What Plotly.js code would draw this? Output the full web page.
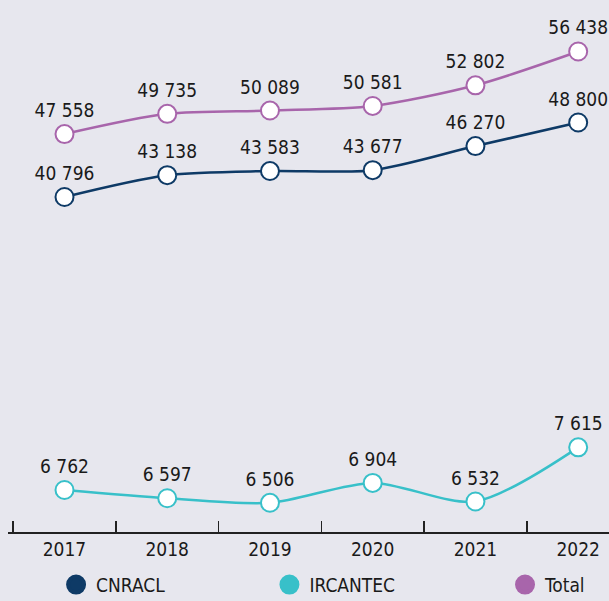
<!DOCTYPE html>
<html><head><meta charset="utf-8">
<script src="https://cdn.plot.ly/plotly-3.0.1.min.js"></script>
<style>html,body{margin:0;padding:0;background:#e7e7ee}</style>
</head><body><div id="chart" style="width:609px;height:601px"></div>
<script>
const years = ['2017','2018','2019','2020','2021','2022'];
const cnracl = [40796, 43138, 43583, 43677, 46270, 48800];
const ircantec = [6762, 6597, 6506, 6904, 6532, 7615];
const total = [47558, 49735, 50089, 50581, 52802, 56438];
const names = ['CNRACL', 'IRCANTEC', 'Total'];
const colors = ['#0e3a66', '#38c0c9', '#a865ab'];

const fmt = v => String(v).replace(/\B(?=(\d{3})+(?!\d))/g, '\u00a0');
const FONT = '"DejaVu Sans Condensed", "Liberation Sans Narrow", sans-serif';

function lineTrace(vals, i, yaxis) {
  return {
    x: years, y: vals, yaxis: yaxis, name: names[i], showlegend: false,
    type: 'scatter', mode: 'lines+markers+text',
    line: {shape: 'spline', smoothing: 0.8, color: colors[i], width: 2.5},
    marker: {size: 18, color: '#ffffff', line: {color: colors[i], width: 2}},
    text: vals.map(fmt), textposition: 'top center',
    textfont: {family: FONT, size: 19, color: '#1a1a1a'},
    cliponaxis: false, hoverinfo: 'skip'
  };
}
const legendIds = ['legend', 'legend2', 'legend3'];
function legendTrace(i) {
  return {x: [null], y: [null], name: names[i], type: 'scatter', mode: 'markers',
    marker: {size: 16, color: colors[i], line: {color: colors[i], width: 4}},
    showlegend: true, legend: legendIds[i]};
}
const data = [
  lineTrace(cnracl, 0, 'y'),
  lineTrace(ircantec, 1, 'y2'),
  lineTrace(total, 2, 'y'),
  legendTrace(0), legendTrace(1), legendTrace(2)
];
function legendAt(x) {
  return {orientation: 'h', x: x, xanchor: 'left', yref: 'container', y: 0.027, yanchor: 'middle',
    font: {family: FONT, size: 19, color: '#1a1a1a'}, bgcolor: 'rgba(0,0,0,0)'};
}
const layout = {
  width: 609, height: 601,
  margin: {l: 8, r: 0, t: 0, b: 69},
  paper_bgcolor: '#e7e7ee', plot_bgcolor: '#e7e7ee',
  font: {family: FONT, color: '#1a1a1a'},
  xaxis: {type: 'category', range: [-0.55, 5.3], showgrid: false, zeroline: false,
    showline: true, linecolor: '#222', linewidth: 1.5, automargin: false,
    ticks: 'inside', tickson: 'boundaries', ticklen: 11, tickwidth: 1.5, tickcolor: '#222',
    tickfont: {family: FONT, size: 19, color: '#1a1a1a'}, fixedrange: true},
  yaxis: {range: [4774, 61974], visible: false, showgrid: false, zeroline: false},
  yaxis2: {range: [5922, 16562], overlaying: 'y', visible: false, showgrid: false, zeroline: false},
  showlegend: true,
  legend: legendAt(0.08),
  legend2: legendAt(0.435),
  legend3: legendAt(0.827)
};
Plotly.newPlot('chart', data, layout, {displayModeBar: false, staticPlot: true});
</script></body></html>
